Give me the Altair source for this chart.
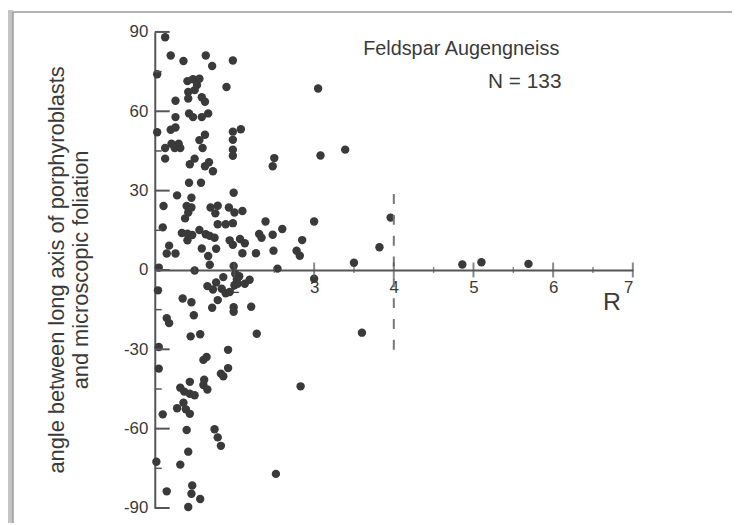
import altair as alt
import pandas as pd

# ---- data ----
R = [1.13, 1.20, 1.36, 1.64, 1.72, 1.98, 1.03, 1.90, 1.41, 1.48,
     1.56, 1.53, 1.42, 1.50, 1.42, 1.59, 1.63, 1.26, 1.26, 1.43,
     1.48, 1.59, 1.67, 1.03, 1.20, 1.26, 1.63, 1.56, 1.60, 1.98,
     2.08, 1.98, 1.98, 1.98, 1.13, 1.21, 1.30, 1.25, 1.32, 1.13,
     1.44, 1.50, 1.68, 1.63, 1.73, 2.50, 2.48, 1.43, 1.58, 1.99,
     1.28, 1.46, 1.11, 1.40, 1.42, 1.46, 1.70, 1.79, 1.76, 1.93,
     2.00, 2.10, 1.38, 1.10, 2.39, 1.79, 1.89, 1.98, 2.60, 1.34,
     1.41, 1.47, 1.41, 1.56, 1.64, 1.69, 1.75, 2.31, 2.34, 2.48,
     1.94, 1.98, 2.07, 2.13, 1.18, 1.15, 1.26, 1.59, 1.77, 1.67,
     1.69, 2.10, 2.27, 2.49, 1.05, 1.50, 1.99, 2.01, 2.06, 2.03,
     2.54, 1.04, 1.66, 1.77, 1.86, 1.73, 1.84, 1.89, 1.94, 2.00,
     2.04, 2.13, 2.19, 1.35, 1.46, 1.79, 1.72, 1.99, 1.99, 2.21,
     1.49, 1.15, 1.18, 1.45, 1.57, 2.28, 1.05, 1.92, 1.61, 1.65,
     1.05, 1.92, 1.83, 1.86, 1.44, 1.62, 1.61, 1.66, 1.32, 1.37,
     1.44, 1.50, 1.36, 1.28, 1.39, 1.44, 1.10, 1.40, 1.75, 1.79,
     1.83, 1.42, 1.02, 1.32, 2.52, 1.47, 1.46, 1.57, 1.15, 1.42,
     3.05, 3.08, 3.39, 3.00, 2.85, 2.78, 2.82, 3.50, 3.82, 3.96,
     3.00, 3.60, 2.83, 4.86, 5.10, 5.69]

ANGLE = [88.0, 81.1, 79.0, 81.1, 77.1, 79.2, 74.0, 69.2, 71.4, 72.1,
         72.3, 69.9, 67.3, 68.0, 64.8, 65.3, 63.6, 64.0, 57.8, 59.2,
         57.8, 57.8, 59.2, 52.1, 53.0, 53.9, 51.1, 49.1, 46.1, 52.3,
         53.2, 49.2, 45.5, 43.2, 46.1, 47.7, 47.7, 46.1, 46.1, 42.1,
         40.0, 42.1, 40.7, 39.2, 37.3, 42.3, 39.2, 33.0, 33.0, 29.2,
         28.2, 27.3, 24.2, 24.2, 21.7, 23.6, 23.6, 24.3, 21.4, 23.6,
         21.7, 22.3, 19.5, 16.1, 18.3, 17.3, 17.3, 17.7, 15.5, 14.0,
         13.7, 13.2, 11.2, 15.1, 13.5, 12.9, 12.2, 13.6, 12.2, 13.3,
         11.2, 9.5, 11.7, 10.1, 9.2, 6.2, 6.2, 8.1, 8.0, 5.3,
         2.0, 6.3, 6.3, 7.3, 0.9, -0.2, 1.5, -1.4, -2.4, -3.6,
         0.5, -7.7, -6.1, -4.7, -2.7, -7.4, -7.1, -8.8, -8.3, -5.8,
         -5.2, -5.2, -3.7, -10.8, -12.2, -11.4, -14.3, -14.1, -15.8, -13.9,
         -17.1, -18.2, -20.1, -25.1, -24.3, -24.1, -29.1, -30.2, -34.0, -32.9,
         -37.3, -37.1, -39.2, -40.2, -42.3, -41.5, -43.5, -45.2, -44.5, -46.0,
         -46.8, -47.4, -50.2, -52.3, -52.7, -54.4, -54.6, -60.5, -60.2, -63.3,
         -66.5, -68.7, -72.5, -73.6, -77.1, -81.5, -84.6, -86.6, -83.7, -89.6,
         68.6, 43.3, 45.5, 18.3, 11.3, 7.3, 5.4, 2.7, 8.6, 19.8,
         -3.3, -23.7, -44.0, 2.1, 2.9, 2.3]

X_MAJOR = [2, 3, 4, 5, 6, 7]
X_MINOR = [1.5, 2.5, 3.5, 4.5, 5.5, 6.5]
Y_MAJOR = [-90, -60, -30, 0, 30, 60, 90]
Y_MINOR = [-75, -45, -15, 15, 45, 75]
DASH_R = [4]
DASH_TOP = [28.7]
DASH_BOTTOM = [-34.0]

TITLE = "Feldspar Augengneiss"
N_LABEL = "N = 133"
Y_TITLE = ["angle between long axis of porphyroblasts", "and microscopic foliation"]
X_TITLE = "R"

FONT = "Liberation Sans"
INK = "#3a3a3a"
AXIS = "#555555"

xs = alt.Scale(domain=[1, 7], nice=False, zero=False)
ys = alt.Scale(domain=[-90, 90], nice=False, zero=False)
x_axis = alt.Axis(values=X_MAJOR, offset=-240, ticks=False, grid=False, title=None,
                  domainColor=AXIS, domainWidth=2, labelFontSize=17, labelColor=INK,
                  labelPadding=10, labelFont=FONT, labelExpr="'' + datum.value")
y_axis = alt.Axis(values=Y_MAJOR, ticks=False, grid=False, title=None,
                  domainColor=AXIS, domainWidth=2, labelFontSize=17, labelColor=INK,
                  labelPadding=7, labelFont=FONT, labelExpr="'' + datum.value")

def X(f):
    return alt.X(f, type="quantitative", scale=xs, axis=x_axis)

def Y(f):
    return alt.Y(f, type="quantitative", scale=ys, axis=y_axis)

pts = pd.DataFrame({"R": R, "angle": ANGLE})
points = alt.Chart(pts).mark_circle(size=72, color=INK, opacity=1).encode(
    x=X("R"), y=Y("angle"))

xmaj = alt.Chart(pd.DataFrame({"R": X_MAJOR, "angle": [0] * len(X_MAJOR)})).mark_tick(
    orient="vertical", size=15, thickness=2, color=AXIS).encode(x=X("R"), y=Y("angle"))
xmin = alt.Chart(pd.DataFrame({"R": X_MINOR, "angle": [0] * len(X_MINOR)})).mark_tick(
    orient="vertical", size=6, thickness=1.5, color=AXIS).encode(x=X("R"), y=Y("angle"))

ymaj = alt.Chart(pd.DataFrame({"angle": Y_MAJOR})).mark_rule(color=AXIS, strokeWidth=2).encode(
    x=alt.value(0), x2=alt.value(15), y=Y("angle"))
ymin = alt.Chart(pd.DataFrame({"angle": Y_MINOR})).mark_rule(color=AXIS, strokeWidth=1.5).encode(
    x=alt.value(0), x2=alt.value(7), y=Y("angle"))

dash = alt.Chart(pd.DataFrame({"R": DASH_R, "angle": DASH_TOP, "bottom": DASH_BOTTOM})).mark_rule(
    color="#777777", strokeWidth=2, strokeDash=[10, 11]).encode(
    x=X("R"), y=Y("angle"), y2="bottom:Q")

# scanned-page frame (left shaded strip and top border)
one = pd.DataFrame({"k": [0]})
strip = alt.Chart(one).mark_rect(color="#c4c4c4").encode(
    x=alt.value(-148), x2=alt.value(-143), y=alt.value(-22), y2=alt.value(495))
edge = alt.Chart(one).mark_rule(color="#9a9a9a", strokeWidth=1.5).encode(
    x=alt.value(-143), y=alt.value(-20), y2=alt.value(495))
top = alt.Chart(one).mark_rule(color="#9a9a9a", strokeWidth=1.5).encode(
    x=alt.value(-143), x2=alt.value(582), y=alt.value(-20))

def label(text, x, y, size, angle=0, baseline="middle", align="center"):
    kw = dict(text=text, fontSize=size, font=FONT, color=INK, baseline=baseline, align=align)
    if angle:
        kw["angle"] = angle
    return alt.Chart(pd.DataFrame({"t": [text]})).mark_text(**kw).encode(
        x=alt.value(x), y=alt.value(y))

texts = [
    label(TITLE, 309, 17, 20),
    label(N_LABEL, 373, 51, 21),
    label(Y_TITLE[0], -99, 240, 22, angle=270),
    label(Y_TITLE[1], -74, 240, 22, angle=270),
    label(X_TITLE, 461, 280, 25, baseline="alphabetic"),
]

chart = alt.layer(points, dash, xmin, xmaj, ymin, ymaj, strip, edge, top, *texts).properties(
    width=482, height=480,
    padding={"left": 148, "top": 22, "right": 100, "bottom": 15},
    autosize=alt.AutoSizeParams(type="none"),
    background="white",
).configure_view(stroke=None)

chart.save("out.html", embed_options={"renderer": "svg", "actions": False})
